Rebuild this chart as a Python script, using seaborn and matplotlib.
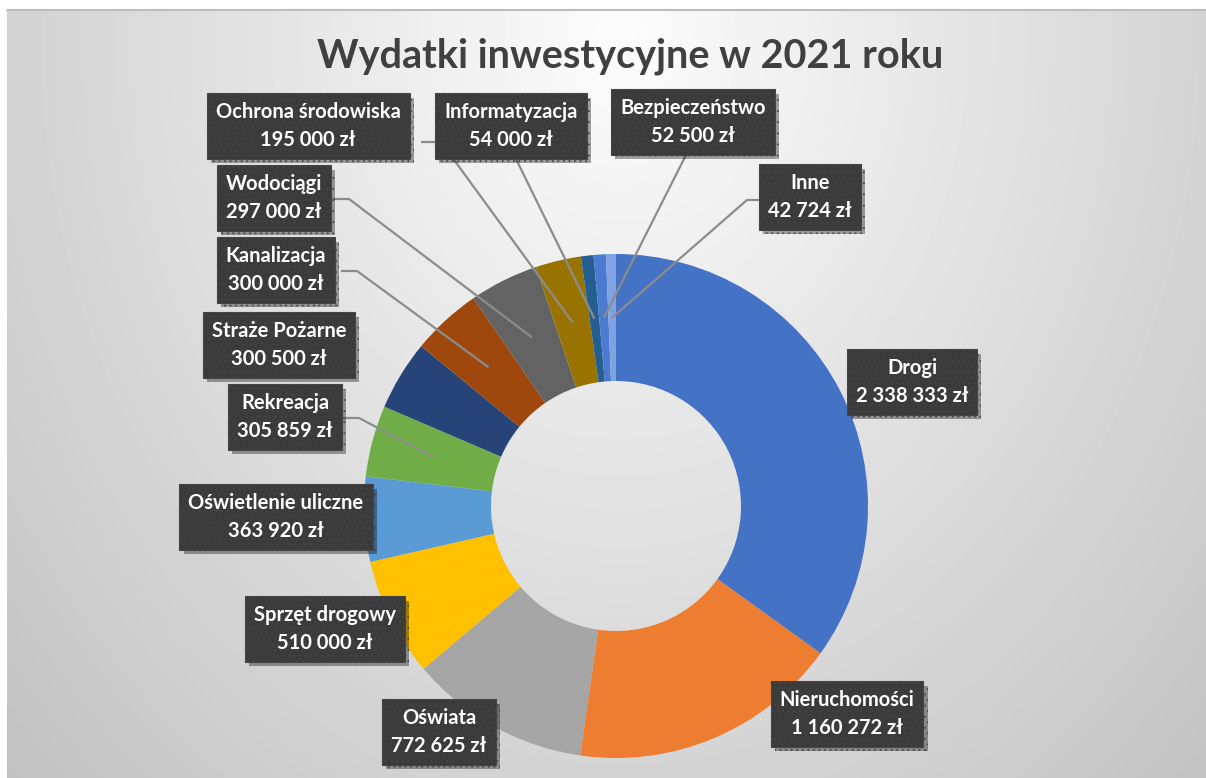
import numpy as np
import seaborn as sns
from matplotlib import pyplot as plt
from matplotlib import patheffects as pe

categories = [
    'Drogi', 'Nieruchomości', 'Oświata', 'Sprzęt drogowy', 'Oświetlenie uliczne',
    'Rekreacja', 'Straże Pożarne', 'Kanalizacja', 'Wodociągi', 'Ochrona środowiska',
    'Informatyzacja', 'Bezpieczeństwo', 'Inne',
]
values = [2338333, 1160272, 772625, 510000, 363920, 305859, 300500, 300000,
          297000, 195000, 54000, 52500, 42724]
slice_colors = ['#4472C4', '#ED7D31', '#A5A5A5', '#FFC000', '#5B9BD5', '#70AD47',
                '#264478', '#9E480E', '#636363', '#997300', '#255E91', '#4A7BD0', '#7FA3E2']

# layout, in pixels of the 1206x778 picture (y measured from the top)
W, H = 1206, 778
label_xy = [(912, 382), (847, 714), (439, 732), (325, 629), (276, 517), (285, 417),
            (279, 345), (276, 270), (274, 198), (308, 126), (511, 126), (693, 122), (810, 197)]
# where a leader line leaves the box (None = no leader), plus a short stub
leader_from = [None, None, None, None, None, (343, 418), None, (341, 271), (333, 199),
               (421, 142), (516, 159), (687, 153), (759, 200)]
stub = [0, 0, 0, 0, 0, 16, 0, 16, 16, 20, 0, 0, -12]
cx, cy, r_out, r_in = 616, 506, 252, 125

sns.set_theme(style='white')
plt.rcParams['font.family'] = ['Lato', 'DejaVu Sans']
plt.rcParams['hatch.linewidth'] = 0.6

fig = plt.figure(figsize=(W / 100, H / 100), dpi=100, facecolor='white')

# background: soft radial gradient, white at the top centre
bg = fig.add_axes([7 / W, 0, 1 - 7 / W, 1 - 10 / H])
yy, xx = np.mgrid[10:H, 7:W]
d = np.sqrt(((xx - 620) / 800.0) ** 2 + ((yy - 40) / 1000.0) ** 2)
shade = np.clip(252 - 55 * d, 0, 255) / 255.0
bg.imshow(shade, cmap='gray', vmin=0, vmax=1, aspect='auto', interpolation='bilinear')
bg.axis('off')
fig.add_artist(plt.Line2D([7 / W, 1], [1 - 9.5 / H, 1 - 9.5 / H], color='#bdbdbd', lw=1.5))

ax = fig.add_axes([0, 0, 1, 1])
ax.patch.set_alpha(0)
palette = sns.color_palette(slice_colors)
ax.pie(values, colors=palette, startangle=90, counterclock=False, radius=r_out,
       center=(cx, H - cy), frame=True, wedgeprops=dict(width=r_out - r_in, linewidth=0))
ax.set_xlim(0, W)
ax.set_ylim(0, H)
ax.set_aspect('equal')
ax.axis('off')

# leader lines to the middle of the ring
total = float(sum(values))
cum = np.cumsum(values) - np.array(values) / 2.0
r_mid = (r_out + r_in) / 2.0
for i, src in enumerate(leader_from):
    if src is None:
        continue
    ang = np.deg2rad(90 - 360 * cum[i] / total)
    px, py = cx + r_mid * np.cos(ang), (H - cy) + r_mid * np.sin(ang)
    sx, sy = src[0], H - src[1]
    ax.plot([sx, sx + stub[i], px], [sy, sy, py], color='#8c8c8c', lw=1.6, zorder=3,
            solid_capstyle='butt')

shadow = [pe.withSimplePatchShadow(offset=(3, -3), shadow_rgbFace='black', alpha=0.35)]
for name, v, (lx, ly) in zip(categories, values, label_xy):
    txt = f'{name}\n' + f'{v:,}'.replace(',', ' ') + ' zł'
    t = ax.text(lx, H - ly, txt, ha='center', va='center', multialignment='center',
                color='white', fontsize=14.5, fontweight='bold', linespacing=1.45, zorder=5,
                bbox=dict(boxstyle='square,pad=0.45', facecolor='#3b3b3b', edgecolor='#454545',
                          hatch='...', linewidth=0.8))
    t.get_bbox_patch().set_path_effects(shadow)

fig.text(630 / W, 1 - 56 / H, 'Wydatki inwestycyjne w 2021 roku', ha='center', va='center',
         fontsize=28.5, fontweight='bold', color='#404040')

fig.savefig('out.png', dpi=100, facecolor='white')
